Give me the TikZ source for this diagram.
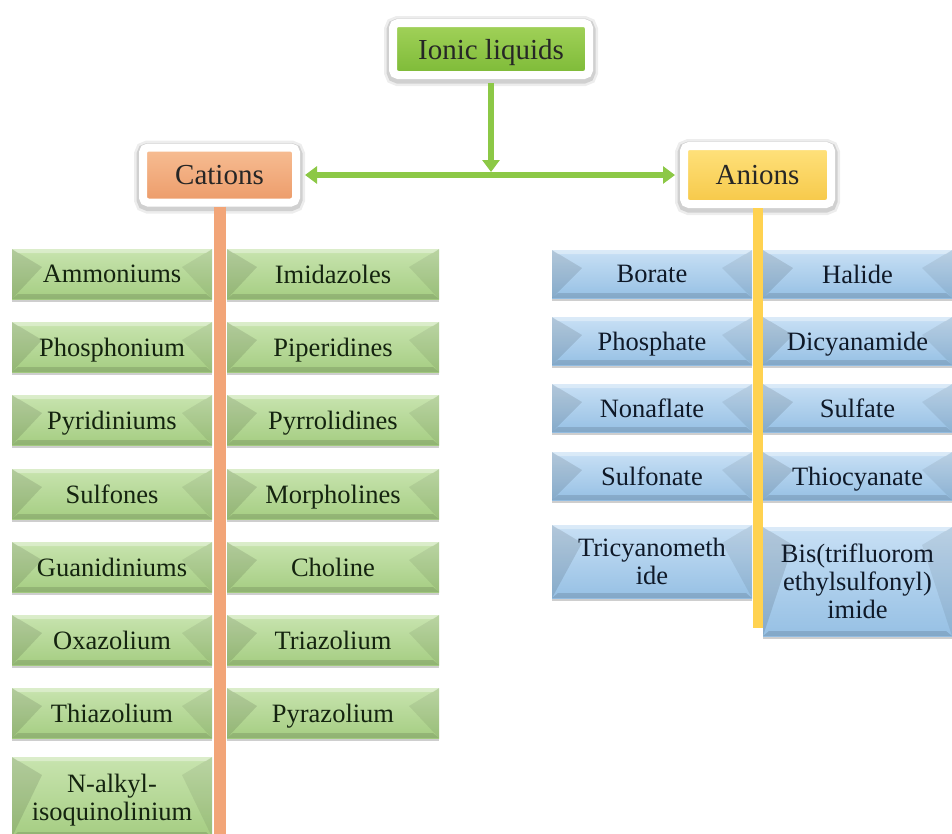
\documentclass[tikz,border=0pt]{standalone}
\usepackage{fontspec}
\setmainfont{Liberation Serif}
\usetikzlibrary{arrows.meta,shadows}
\definecolor{gHeadL}{RGB}{162,210,90}
\definecolor{gHeadD}{RGB}{125,186,55}
\definecolor{oHeadL}{RGB}{247,190,148}
\definecolor{oHeadD}{RGB}{236,155,105}
\definecolor{yHeadL}{RGB}{255,226,125}
\definecolor{yHeadD}{RGB}{246,200,72}
\definecolor{gItemL}{RGB}{200,228,175}
\definecolor{gItemD}{RGB}{165,205,130}
\definecolor{bItemL}{RGB}{200,224,245}
\definecolor{bItemD}{RGB}{150,192,228}
\definecolor{arrowG}{RGB}{140,200,70}
\definecolor{lineO}{RGB}{242,165,120}
\definecolor{lineY}{RGB}{255,210,80}
\definecolor{txtG}{RGB}{20,35,15}
\definecolor{txtB}{RGB}{15,25,40}
\newcommand\itfont{\fontsize{26.5}{28}\selectfont}
\newcommand\hdfont{\fontsize{29}{31}\selectfont}
\tikzset{
  mainbox/.style={rounded corners=5pt, draw=white, line width=8pt,
    font=\hdfont, text=black!85, align=center, inner sep=2pt,
    execute at begin node=\vphantom{A}, text depth=0pt,
    preaction={draw=black, draw opacity=.07, line width=18pt, fill=none, transform canvas={yshift=-2pt}},
    preaction={draw=black, draw opacity=.12, line width=13pt, fill=none, transform canvas={yshift=-2pt}}},
  item/.style={minimum height=50pt, inner sep=2pt, align=center, font=\itfont,
    execute at begin node=\vphantom{A}, text depth=0pt,
    drop shadow={shadow xshift=0pt, shadow yshift=-3pt, opacity=.35, fill=black!55},
    path picture={
      \fill[black, opacity=.11] (path picture bounding box.north west)
        -- ([xshift=30pt,yshift=-18pt]path picture bounding box.north west)
        -- (path picture bounding box.south west) -- cycle;
      \fill[black, opacity=.07] (path picture bounding box.north east)
        -- ([xshift=-30pt,yshift=-18pt]path picture bounding box.north east)
        -- (path picture bounding box.south east) -- cycle;
      \fill[white, opacity=.35] (path picture bounding box.north west)
        -- (path picture bounding box.north east)
        -- ([xshift=-6pt,yshift=-4pt]path picture bounding box.north east)
        -- ([xshift=6pt,yshift=-4pt]path picture bounding box.north west) -- cycle;
      \fill[black, opacity=.12] (path picture bounding box.south west)
        -- (path picture bounding box.south east)
        -- ([xshift=-6pt,yshift=5pt]path picture bounding box.south east)
        -- ([xshift=6pt,yshift=5pt]path picture bounding box.south west) -- cycle;
    }},
  gitem/.style={item, top color=gItemL, bottom color=gItemD, text=txtG},
  bitem/.style={item, top color=bItemL, bottom color=bItemD, text=txtB},
  conn/.style={draw=arrowG, line width=6pt},
  tipG/.tip={Triangle[length=12pt,width=17pt]}
}
\begin{document}
\begin{tikzpicture}[x=1pt,y=-1pt]
\useasboundingbox (0,0) rectangle (952,833);
\fill[white] (0,0) rectangle (952,833);

% heading boxes
\node[mainbox, top color=gHeadL, bottom color=gHeadD, minimum width=196pt, minimum height=52pt] (ionic) at (491,49) {Ionic liquids};
\node[mainbox, top color=oHeadL, bottom color=oHeadD, minimum width=153pt, minimum height=55pt] (cations) at (219.5,175) {Cations};
\node[mainbox, top color=yHeadL, bottom color=yHeadD, minimum width=147pt, minimum height=58pt] (anions) at (757.5,175) {Anions};

% connectors
\coordinate (jn) at (491,175);
\coordinate (cend) at (219.5,845);
\coordinate (aend) at (757.5,628);
\draw[conn, -tipG, shorten <=4pt, shorten >=3pt] (ionic.south) -- (jn);
\draw[conn, tipG-tipG, shorten <=5pt, shorten >=5pt] (cations.east) -- (anions.west);
\draw[draw=lineO, line width=12pt] (cations.south) -- (cend);
\draw[draw=lineY, line width=10pt] (anions.south) -- (aend);

% cations items
\begin{scope}[every node/.append style={gitem}]
\node[minimum width=200pt] (ammon) at (112,274) {Ammoniums};
\node[minimum width=212pt] (imid) at (333,274) {Imidazoles};
\node[minimum width=200pt] (phos) at (112,347) {Phosphonium};
\node[minimum width=212pt] (piper) at (333,347) {Piperidines};
\node[minimum width=200pt] (pyrid) at (112,420) {Pyridiniums};
\node[minimum width=212pt] (pyrrol) at (333,420) {Pyrrolidines};
\node[minimum width=200pt] (sulfo) at (112,494) {Sulfones};
\node[minimum width=212pt] (morph) at (333,494) {Morpholines};
\node[minimum width=200pt] (guan) at (112,567) {Guanidiniums};
\node[minimum width=212pt] (chol) at (333,567) {Choline};
\node[minimum width=200pt] (oxaz) at (112,640) {Oxazolium};
\node[minimum width=212pt] (triaz) at (333,640) {Triazolium};
\node[minimum width=200pt] (thiaz) at (112,713) {Thiazolium};
\node[minimum width=212pt] (pyraz) at (333,713) {Pyrazolium};
\node[minimum width=200pt, minimum height=80pt] (nalk) at (112,797) {N-alkyl-\\isoquinolinium};
\end{scope}

% anion items
\begin{scope}[every node/.append style={bitem}]
\node[minimum width=200pt, minimum height=48pt] (borate) at (652,274) {Borate};
\node[minimum width=189pt, minimum height=48pt] (halide) at (857.5,274) {Halide};
\node[minimum width=200pt, minimum height=48pt] (phosph) at (652,341) {Phosphate};
\node[minimum width=189pt, minimum height=48pt] (dicy) at (857.5,341) {Dicyanamide};
\node[minimum width=200pt, minimum height=48pt] (nona) at (652,408) {Nonaflate};
\node[minimum width=189pt, minimum height=48pt] (sulfa) at (857.5,408) {Sulfate};
\node[minimum width=200pt, minimum height=48pt] (sulfon) at (652,476) {Sulfonate};
\node[minimum width=189pt, minimum height=48pt] (thio) at (857.5,476) {Thiocyanate};
\node[minimum width=200pt, minimum height=73pt] (tricy) at (652,561.5) {Tricyanometh\\ide};
\node[minimum width=189pt, minimum height=109pt] (bis) at (857.5,581.5) {Bis(trifluorom\\ethylsulfonyl)\\imide};
\end{scope}
\end{tikzpicture}
\end{document}
